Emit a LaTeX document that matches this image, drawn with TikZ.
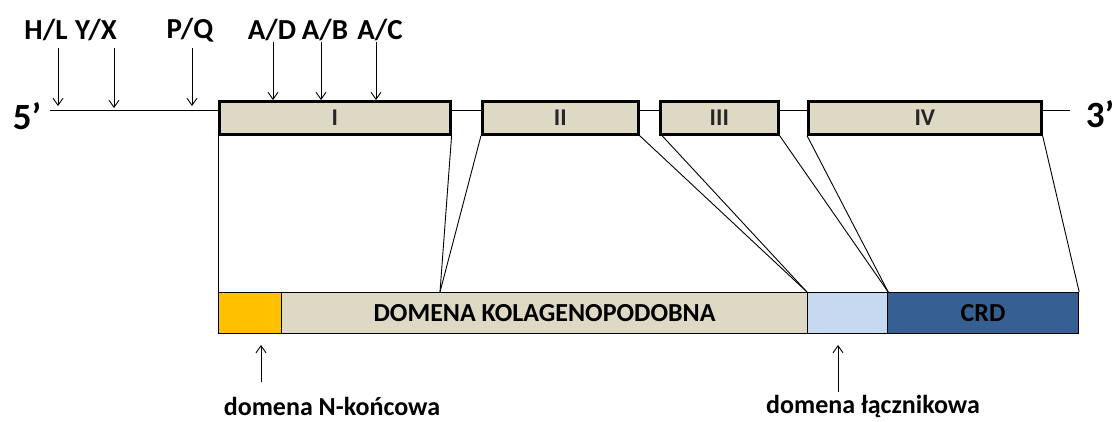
\documentclass[tikz,border=0pt]{standalone}
\usepackage{fontspec}
\setmainfont{Carlito}
\usetikzlibrary{arrows.meta}
\definecolor{tan}{HTML}{DDD9C4}
\definecolor{orng}{HTML}{FFC000}
\definecolor{lblue}{HTML}{C6D9F1}
\definecolor{dblue}{HTML}{376092}
\tikzset{
  exon/.style={draw=black, line width=2.6pt, fill=tan, inner sep=0pt, text=black!85, font=\fontsize{24}{24}\selectfont\bfseries},
  seg/.style={draw=black, line width=1.2pt, inner sep=0pt, font=\fontsize{26}{26}\selectfont\bfseries},
  lbl/.style={font=\fontsize{29}{29}\selectfont\bfseries, inner sep=0pt},
  blbl/.style={font=\fontsize{26}{26}\selectfont\bfseries, inner sep=0pt},
  pin/.style={-{Straight Barb[length=7pt,width=10pt]}, line width=0.9pt},
  conn/.style={line width=0.9pt},
}
\begin{document}
\begin{tikzpicture}[x=1pt,y=-1pt]
\useasboundingbox (0,0) rectangle (1120,421);
% gene line
\coordinate (L0) at (50,110);
\coordinate (L1) at (1070,110);
\draw[line width=1pt] (L0) -- (L1);
\node[font=\fontsize{37}{37}\selectfont\bfseries, inner sep=0pt] (five) at (27,116) {5’};
\node[font=\fontsize{37}{37}\selectfont\bfseries, inner sep=0pt] (three) at (1100,114) {3’};
% exons
\node[exon, minimum width=231pt, minimum height=33pt, anchor=north west] (e1) at (218,100) {I};
\node[exon, minimum width=156pt, minimum height=33pt, anchor=north west] (e2) at (481,100) {II};
\node[exon, minimum width=118pt, minimum height=33pt, anchor=north west] (e3) at (659,100) {III};
\node[exon, minimum width=233pt, minimum height=33pt, anchor=north west] (e4) at (807,100) {IV};
% protein bar
\node[seg, fill=orng, minimum width=63pt, minimum height=41pt, anchor=north west] (nt) at (218,292) {};
\node[seg, fill=tan, minimum width=526pt, minimum height=41pt, anchor=north west] (col) at (281,292) {DOMENA KOLAGENOPODOBNA};
\node[seg, fill=lblue, minimum width=80pt, minimum height=41pt, anchor=north west] (lnk) at (807,292) {};
\node[seg, fill=dblue, minimum width=191pt, minimum height=41pt, anchor=north west] (crd) at (887,292) {CRD};
% connectors
\coordinate (p1) at (440,292);
\draw[conn] (e1.south west) -- (nt.north west);
\draw[conn] (e1.south east) -- (p1);
\draw[conn] (e2.south west) -- (p1);
\draw[conn] (e2.south east) -- (lnk.north west);
\draw[conn] ([xshift=3pt]e3.south west) -- (lnk.north west);
\draw[conn] (e3.south east) -- (lnk.north east);
\draw[conn] (e4.south west) -- (lnk.north east);
\draw[conn] (e4.south east) -- (crd.north east);
% top labels and arrows
\node[lbl] (hl) at (46,30) {H/L};
\node[lbl] (yx) at (96,30) {Y/X};
\node[lbl] (pq) at (190,30) {P/Q};
\node[lbl] (ad) at (272,30) {A/D};
\node[lbl] (ab) at (325,30) {A/B};
\node[lbl] (ac) at (380,30) {A/C};
\coordinate (thl) at (58,106);
\coordinate (tyx) at (114,108);
\coordinate (tpq) at (192,106);
\draw[pin] (58,48) -- (thl);
\draw[pin] (114,48) -- (tyx);
\draw[pin] (192,48) -- (tpq);
\draw[pin] (273,42) -- (273,100);
\draw[pin] (321,42) -- (321,100);
\draw[pin] (376,42) -- (376,100);
% bottom labels
\node[blbl] (nlab) at (332,406) {domena N-końcowa};
\node[blbl] (llab) at (873,406) {domena łącznikowa};
\draw[pin] (261,382) -- (261,345);
\draw[pin] (838,392) -- (838,345);
\end{tikzpicture}
\end{document}
